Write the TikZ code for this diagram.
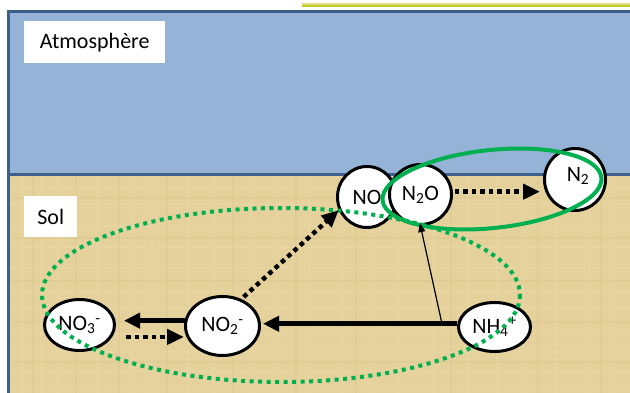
\documentclass[tikz,border=0pt]{standalone}
\usepackage{fontspec}
\setmainfont{Carlito}
\usetikzlibrary{shapes.geometric,arrows.meta,calc}
\definecolor{atmo}{RGB}{149,179,215}
\definecolor{frameblue}{RGB}{62,94,140}
\definecolor{soil}{RGB}{228,209,155}
\definecolor{soillight}{RGB}{238,224,180}
\definecolor{soildark}{RGB}{214,192,132}
\definecolor{grn}{RGB}{0,176,80}
\definecolor{ylw}{RGB}{198,198,40}
\definecolor{ylwlight}{RGB}{222,222,130}
\begin{document}
\begin{tikzpicture}[x=1pt,y=-1pt,
  chem/.style={ellipse, draw=black, line width=3pt, fill=white, inner sep=0pt,
    font=\fontsize{22}{24}\selectfont},
  thickarrow/.style={line width=4.5pt, -{Triangle[length=16pt,width=15pt]}},
  dotarrow/.style={line width=4.5pt, dash pattern=on 4.5pt off 4pt,
    -{Triangle[length=17pt,width=15pt]}},
  thinarrow/.style={line width=1.2pt, -{Triangle[length=9pt,width=7pt]}},
  lbl/.style={fill=white, inner sep=0pt, anchor=north west,
    font=\fontsize{22}{24}\selectfont},
  grnsolid/.style={draw=grn, line width=4pt},
  grndots/.style={draw=grn, line width=4pt, dash pattern=on 4pt off 4.5pt},
  streak/.style={line width=1.2pt, opacity=0.25}
]
\useasboundingbox (0,0) rectangle (630,393);
\clip (0,0) rectangle (630,393);
% background
\fill[white] (0,0) rectangle (630,393);
\draw[ylwlight, line width=1.5pt] (302,3.8) -- (640,3.8);
\draw[ylw, line width=2pt] (302,5.8) -- (640,5.8);
\fill[atmo] (8.7,11.7) rectangle (640,175);
\fill[soil] (8.7,175) rectangle (640,400);
% faint papyrus texture
\foreach \x in {23,41,58,97,131,152,188,214,251,277,309,342,371,398,433,468,497,523,556,589,611}
  \draw[streak, soillight] (\x,176) -- (\x,393);
\foreach \x in {33,76,119,167,233,296,356,451,538,601}
  \draw[streak, soildark] (\x,176) -- (\x,393);
\foreach \y in {189,204,226,247,268,291,309,334,352,371,386}
  \draw[streak, soillight] (9,\y) -- (630,\y);
\foreach \y in {198,238,281,322,362}
  \draw[streak, soildark] (9,\y) -- (630,\y);
\draw[frameblue, line width=3pt] (8.7,400) -- (8.7,11.7) -- (640,11.7);
\draw[frameblue, line width=3pt] (8.7,175) -- (640,175);
% labels
\node[lbl, minimum width=141pt, minimum height=42pt] (atm) at (24,21) {Atmosphère};
\node[lbl, minimum width=53pt, minimum height=41pt] (sol) at (24,196) {Sol};
% species
\node[chem, minimum width=59pt, minimum height=61pt] (no) at (367,197) {NO};
\node[chem, minimum width=62pt, minimum height=60pt] (n2o) at (420.5,194.5) {N\textsubscript{2}O};
\node[chem, minimum width=61pt, minimum height=62pt] (n2) at (575,179.5) {};
\node[font=\fontsize{22}{24}\selectfont, inner sep=0pt] (n2t) at (578,176) {N\textsubscript{2}};
\node[chem, minimum width=70pt, minimum height=51pt] (no3) at (79.5,325) {NO\textsubscript{3}\textsuperscript{-}};
\node[chem, minimum width=74pt, minimum height=59pt] (no2) at (222.5,326) {NO\textsubscript{2}\textsuperscript{-}};
\node[chem, minimum width=72pt, minimum height=49pt] (nh4) at (494.5,327) {NH\textsubscript{4}\textsuperscript{+}};
% green groupings
\draw[grndots] (281,295) ellipse [x radius=239, y radius=87];
\draw[grnsolid, rotate around={6:(492,189)}] (492,189) ellipse [x radius=110, y radius=39];
% arrows
\draw[thickarrow, shorten >=2pt] (nh4.175) -- (no2.east |- nh4.175);
\coordinate (j) at ($(nh4.175)!0.078!(no2.east |- nh4.175)$);
\draw[thinarrow, shorten >=-3pt] (j) -- (n2o.south);
\draw[thickarrow, shorten >=8pt] (no2.172) -- (no3.east |- no2.172);
\draw[dotarrow, shorten <=14pt] (no3.-20) -- (no2.west |- no3.-20);
\draw[dotarrow, shorten <=3pt] (no2.55) -- (no.205);
\draw[dotarrow, shorten <=2pt, shorten >=3pt] (n2o.5) -- (n2.west |- n2o.5);
\end{tikzpicture}
\end{document}
